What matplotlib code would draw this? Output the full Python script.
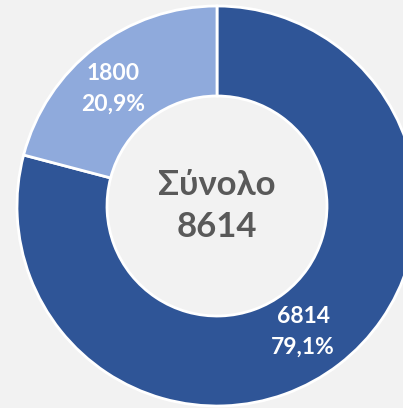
import matplotlib
matplotlib.use("Agg")
import matplotlib.pyplot as plt
import numpy as np

categories = ["A", "B"]
values = [6814, 1800]
colors = ["#2F5597", "#8FAADC"]
total_label = "Σύνολο"

total = sum(values)
W, H = 403, 408
fig = plt.figure(figsize=(W / 100, H / 100), dpi=100, facecolor="#F2F2F2")
ax = fig.add_axes([0, 0, 1, 1])
ax.set_facecolor("#F2F2F2")

cx, cy, R = 217, H - 206, 200
wedges, _ = ax.pie(values, colors=colors, startangle=90, counterclock=False,
                   radius=R, center=(cx, cy),
                   wedgeprops=dict(width=90, edgecolor="white", linewidth=2.0))
ax.set_xlim(0, W)
ax.set_ylim(0, H)
ax.set_aspect("equal")
ax.axis("off")

fam = ["Lato", "Open Sans", "DejaVu Sans"]
label_pos = [(303, H - 332), (113, H - 89)]
for v, (x, y) in zip(values, label_pos):
    pct = f"{v / total * 100:.1f}".replace(".", ",") + "%"
    ax.text(x, y, f"{v}\n{pct}", ha="center", va="center", color="white",
            fontsize=16.5, fontweight="bold", family=fam, linespacing=1.55)

ax.text(cx, H - 206, f"{total_label}\n{total}", ha="center", va="center",
        color="#595959", fontsize=25, fontweight="bold", family=fam, linespacing=1.4)

fig.savefig("out.png", dpi=100, facecolor="#F2F2F2")
